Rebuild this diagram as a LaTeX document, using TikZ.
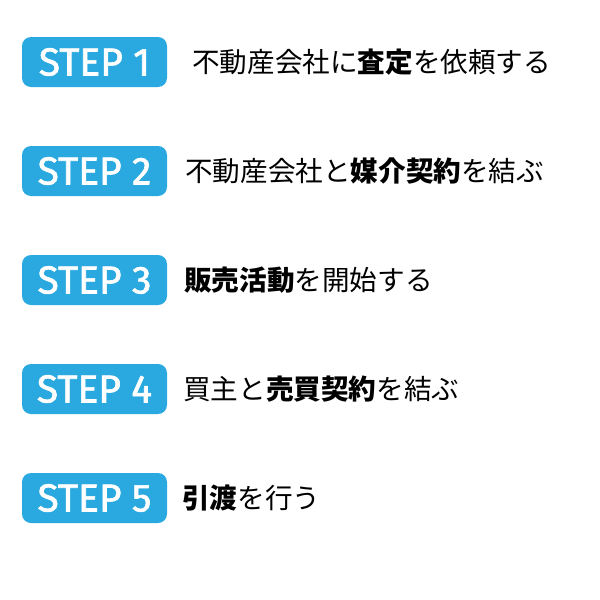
\documentclass[tikz,border=0pt]{standalone}
\usepackage{fontspec}
\setmainfont{Noto Sans CJK JP}
\newfontfamily\stepfont[FakeBold=1.6]{Fira Sans}
\newfontfamily\jpfont{Noto Sans CJK JP}
\definecolor{stepblue}{HTML}{29A9E0}
\begin{document}
\begin{tikzpicture}[x=1pt,y=-1pt,
  stepbox/.style={fill=stepblue, rounded corners=9pt, minimum width=145pt, minimum height=50pt,
    inner sep=0pt, text=white, font=\stepfont\fontsize{39}{39}\selectfont},
  desc/.style={anchor=west, inner sep=0pt, text=black, font=\jpfont\fontsize{27.6}{27.6}\selectfont}]
\useasboundingbox (0,0) rectangle (600,600);
\node[stepbox] (s1) at (94.5,62) {STEP 1};
\node[stepbox] (s2) at (94.5,171) {STEP 2};
\node[stepbox] (s3) at (94.5,280) {STEP 3};
\node[stepbox] (s4) at (94.5,389) {STEP 4};
\node[stepbox] (s5) at (94.5,498) {STEP 5};
\node[desc] (t1) at (192,62) {不動産会社に\textbf{査定}を依頼する};
\node[desc] (t2) at (185,171) {不動産会社と\textbf{媒介契約}を結ぶ};
\node[desc] (t3) at (184,280) {\textbf{販売活動}を開始する};
\node[desc] (t4) at (183,389) {買主と\textbf{売買契約}を結ぶ};
\node[desc] (t5) at (182,498) {\textbf{引渡}を行う};
\end{tikzpicture}
\end{document}
